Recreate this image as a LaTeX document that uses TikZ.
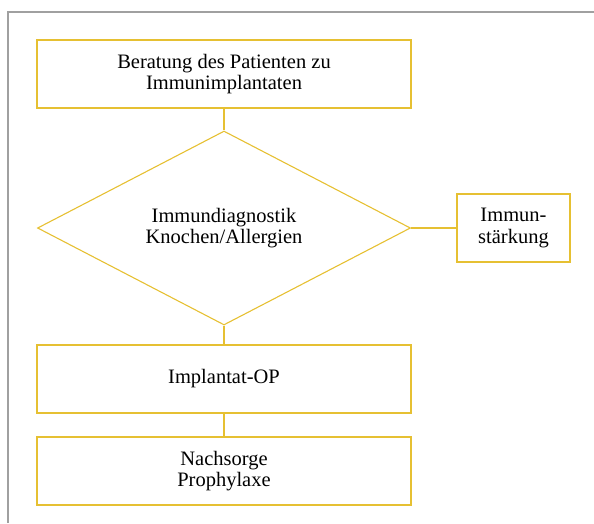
\documentclass[tikz,border=0pt]{standalone}
\usepackage{fontspec}
\setmainfont{Liberation Serif}
\usetikzlibrary{shapes.geometric}
\definecolor{gold}{RGB}{230,192,50}
\definecolor{framegray}{RGB}{160,160,160}
\tikzset{
  flowbox/.style={draw=gold, line width=1.6pt, fill=white, align=center, inner sep=0pt,
    font=\fontsize{20.5pt}{21.5pt}\selectfont},
  decision/.style={draw=gold, line width=1.1pt, diamond, align=center, inner sep=0pt,
    font=\fontsize{20.5pt}{21.5pt}\selectfont},
  link/.style={draw=gold, line width=1.1pt}
}
\begin{document}
\begin{tikzpicture}[x=1pt,y=-1pt]
\useasboundingbox (0,0) rectangle (594,523);
\draw[framegray, line width=1.5pt] (8,523) -- (8,12) -- (594,12);
\node[flowbox, minimum width=374pt, minimum height=68pt] (advice) at (224,74) {Beratung des Patienten zu\\Immunimplantaten};
\node[decision, minimum width=373pt, minimum height=194pt, shape aspect=1.92] (diag) at (224,228) {Immundiagnostik\\Knochen/Allergien};
\node[flowbox, minimum width=113pt, minimum height=68pt] (boost) at (513.5,228) {Immun-\\stärkung};
\node[flowbox, minimum width=374pt, minimum height=68pt] (op) at (224,379) {Implantat-OP};
\node[flowbox, minimum width=374pt, minimum height=68pt] (care) at (224,471) {Nachsorge\\Prophylaxe};
\draw[link] (advice.south) -- (diag.north);
\draw[link] (diag.south) -- (op.north);
\draw[link] (op.south) -- (care.north);
\draw[link] (diag.east) -- (boost.west);
\end{tikzpicture}
\end{document}
